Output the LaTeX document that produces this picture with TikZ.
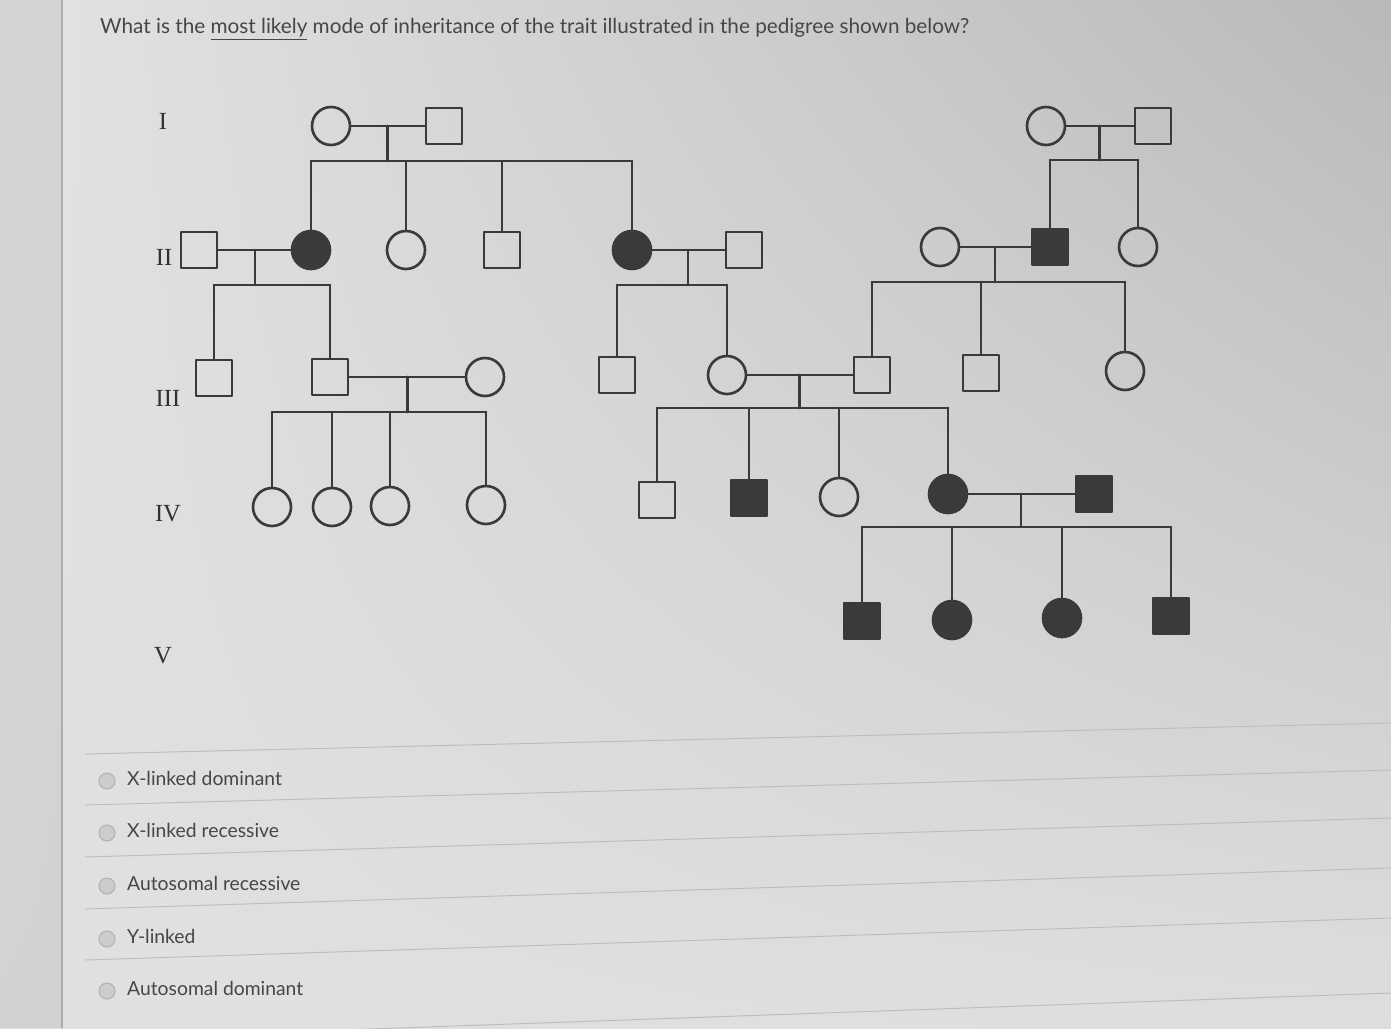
\documentclass[tikz,border=0pt]{standalone}
\usepackage{fontspec}
\setmainfont{Lato}
\newfontfamily\gennum{Liberation Serif}
\usetikzlibrary{calc,shadings}
\definecolor{ink}{RGB}{58,58,58}
\definecolor{txt}{RGB}{70,70,70}

\begin{document}
\begin{tikzpicture}[
    x=0.02cm, y=-0.02cm,
    line cap=round,
    line join=round,
    rel/.style={draw=ink, line width=1.5pt},
    male/.style={rectangle, draw=ink, line width=1.5pt, minimum size=0.72cm, inner sep=0pt},
    female/.style={circle, draw=ink, line width=1.5pt, minimum size=0.76cm, inner sep=0pt},
    aff/.style={fill=ink},
    gen/.style={font=\gennum\fontsize{14}{14}\selectfont, text=ink!85!black},
    question/.style={anchor=west, font=\fontsize{11.8}{14}\selectfont, text=txt},
    answer/.style={anchor=west, font=\fontsize{11}{13}\selectfont, text=txt},
    radio/.style={circle, draw=gray!60, fill=gray!40, line width=0.6pt, minimum size=0.32cm, inner sep=0pt},
    rule/.style={draw=gray!52, line width=0.55pt}
]
\useasboundingbox (0,0) rectangle (1391,1028);
\shade[upper left=gray!22, upper right=gray!55, lower left=gray!24, lower right=gray!26] (0,0) rectangle (1391,1028);
\fill[gray!45, opacity=0.5] (0,0) rectangle (62,1028);
\draw[gray!65, line width=0.6pt] (62,0) -- (62,1028);

\node[question] (q) at (94,29) {What is the \underline{most likely} mode of inheritance of the trait illustrated in the pedigree shown below?};

\node[gen] (gI)   at (163,121) {I};
\node[gen] (gII)  at (164,257) {II};
\node[gen] (gIII) at (168,398) {III};
\node[gen] (gIV)  at (168,514) {IV};
\node[gen] (gV)   at (163,656) {V};

\node[female]     (a1) at (331,126) {};
\node[male]       (a2) at (444,126) {};
\node[female]     (a3) at (1046,126) {};
\node[male]       (a4) at (1153,126) {};

\node[male]       (b1) at (199,250) {};
\node[female,aff] (b2) at (311,250) {};
\node[female]     (b3) at (406,250) {};
\node[male]       (b4) at (502,250) {};
\node[female,aff] (b5) at (632,250) {};
\node[male]       (b6) at (744,250) {};
\node[female]     (b7) at (940,247) {};
\node[male,aff]   (b8) at (1050,247) {};
\node[female]     (b9) at (1138,247) {};

\node[male]       (c1) at (214,378) {};
\node[male]       (c2) at (330,377) {};
\node[female]     (c3) at (485,377) {};
\node[male]       (c4) at (617,375) {};
\node[female]     (c5) at (727,375) {};
\node[male]       (c6) at (872,375) {};
\node[male]       (c7) at (981,373) {};
\node[female]     (c8) at (1125,371) {};

\node[female]     (d1) at (272,507) {};
\node[female]     (d2) at (332,507) {};
\node[female]     (d3) at (390,506) {};
\node[female]     (d4) at (486,505) {};
\node[male]       (d5) at (657,500) {};
\node[male,aff]   (d6) at (749,498) {};
\node[female]     (d7) at (839,497) {};
\node[female,aff] (d8) at (948,494) {};
\node[male,aff]   (d9) at (1094,494) {};

\node[male,aff]   (e1) at (862,621) {};
\node[female,aff] (e2) at (952,620) {};
\node[female,aff] (e3) at (1062,618) {};
\node[male,aff]   (e4) at (1171,616) {};

\draw[rel] (a1) -- (a2);
\coordinate (m1) at ($(a1)!.5!(a2)$);
\coordinate (s1) at ($(m1)+(0,35)$);
\draw[rel] (m1) -- (s1);
\draw[rel] (s1 -| b2) -- (s1 -| b5);
\foreach \k in {b2,b3,b4,b5} \draw[rel] (s1 -| \k) -- (\k);

\draw[rel] (a3) -- (a4);
\coordinate (m2) at ($(a3)!.5!(a4)$);
\coordinate (s2) at ($(m2)+(0,34)$);
\draw[rel] (m2) -- (s2);
\draw[rel] (s2 -| b8) -- (s2 -| b9);
\foreach \k in {b8,b9} \draw[rel] (s2 -| \k) -- (\k);

\draw[rel] (b1) -- (b2);
\coordinate (m3) at ($(b1)!.5!(b2)$);
\coordinate (s3) at ($(m3)+(0,35)$);
\draw[rel] (m3) -- (s3);
\draw[rel] (s3 -| c1) -- (s3 -| c2);
\foreach \k in {c1,c2} \draw[rel] (s3 -| \k) -- (\k);

\draw[rel] (b5) -- (b6);
\coordinate (m4) at ($(b5)!.5!(b6)$);
\coordinate (s4) at ($(m4)+(0,35)$);
\draw[rel] (m4) -- (s4);
\draw[rel] (s4 -| c4) -- (s4 -| c5);
\foreach \k in {c4,c5} \draw[rel] (s4 -| \k) -- (\k);

\draw[rel] (b7) -- (b8);
\coordinate (m5) at ($(b7)!.5!(b8)$);
\coordinate (s5) at ($(m5)+(0,35)$);
\draw[rel] (m5) -- (s5);
\draw[rel] (s5 -| c6) -- (s5 -| c8);
\foreach \k in {c6,c7,c8} \draw[rel] (s5 -| \k) -- (\k);

\draw[rel] (c2) -- (c3);
\coordinate (m6) at ($(c2)!.5!(c3)$);
\coordinate (s6) at ($(m6)+(0,35)$);
\draw[rel] (m6) -- (s6);
\draw[rel] (s6 -| d1) -- (s6 -| d4);
\foreach \k in {d1,d2,d3,d4} \draw[rel] (s6 -| \k) -- (\k);

\draw[rel] (c5) -- (c6);
\coordinate (m7) at ($(c5)!.5!(c6)$);
\coordinate (s7) at ($(m7)+(0,33)$);
\draw[rel] (m7) -- (s7);
\draw[rel] (s7 -| d5) -- (s7 -| d8);
\foreach \k in {d5,d6,d7,d8} \draw[rel] (s7 -| \k) -- (\k);

\draw[rel] (d8) -- (d9);
\coordinate (m8) at ($(d8)!.5!(d9)$);
\coordinate (s8) at ($(m8)+(0,33)$);
\draw[rel] (m8) -- (s8);
\draw[rel] (s8 -| e1) -- (s8 -| e4);
\foreach \k in {e1,e2,e3,e4} \draw[rel] (s8 -| \k) -- (\k);

\draw[rule] (85,754) -- (1391,723);
\draw[rule] (85,805) -- (1391,770);
\draw[rule] (85,857) -- (1391,818);
\draw[rule] (85,909) -- (1391,868);
\draw[rule] (85,960) -- (1391,918);
\draw[rule] (85,1039) -- (1391,993);

\foreach \y/\t/\n in {781/X-linked dominant/1, 833/X-linked recessive/2, 886/Autosomal recessive/3, 939/Y-linked/4, 991/Autosomal dominant/5} {
  \node[radio] (r\n) at (107,\y) {};
  \node[answer] (t\n) at (121,\y-3) {\t};
}
\end{tikzpicture}
\end{document}
